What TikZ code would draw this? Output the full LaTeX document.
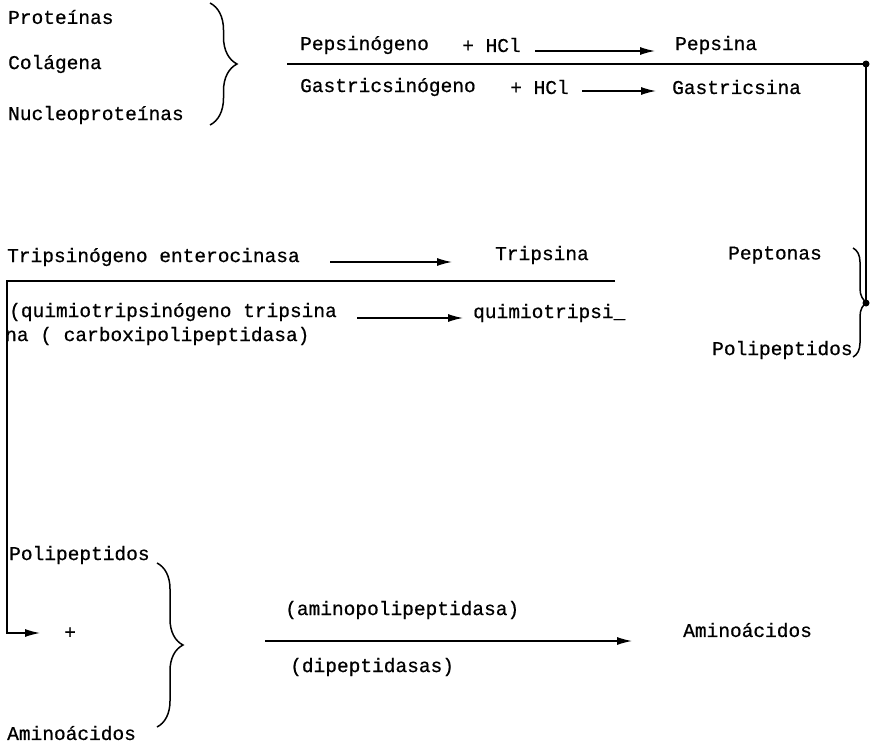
\documentclass[tikz,border=0pt]{standalone}
\usepackage{fontspec}
\newfontfamily\maq[FakeBold=0.6]{Liberation Mono}
\usetikzlibrary{arrows.meta,decorations.pathreplacing}
\tikzset{
  txt/.style={anchor=west,inner sep=0pt,font=\maq\fontsize{19.5}{21}\selectfont},
  ln/.style={line width=1.3pt},
  arr/.style={line width=1.3pt,-{Latex[length=15pt,width=8pt]}},
  llave/.style={line width=1.5pt,decorate,decoration={brace,amplitude=#1}},
  punto/.style={circle,fill,inner sep=0pt,minimum size=7pt},
}
\begin{document}
\begin{tikzpicture}[x=1pt,y=-1pt]
  \useasboundingbox (0,0) rectangle (872,746);
  % estomago
  \node[txt] (prot) at (8,17) {Proteínas};
  \node[txt] (col) at (8,64) {Colágena};
  \node[txt] (nucl) at (8,115) {Nucleoproteínas};
  \draw[llave=27pt] (210,3) -- (210,125);
  \node[txt] (pepg) at (300,45) {Pepsinógeno};
  \node[txt] (hcla) at (462,45) {+ HCl};
  \node[txt] (peps) at (675,45) {Pepsina};
  \node[txt] (gasg) at (300,87) {Gastricsinógeno};
  \node[txt] (hclb) at (510,87) {+ HCl};
  \node[txt] (gast) at (672,87) {Gastricsina};
  \coordinate (a1) at (535,51); \coordinate (b1) at (655,51);
  \coordinate (a2) at (582,91); \coordinate (b2) at (656,91);
  \draw[arr] (a1) -- (b1);
  \draw[arr] (a2) -- (b2);
  \node[punto] (d1) at (866,64) {};
  \node[punto] (d2) at (866,303) {};
  \draw[ln] (287,64) -- (d1.center) -- (d2.center);
  % intestino
  \node[txt] (trg) at (7,257) {Tripsinógeno enterocinasa};
  \node[txt] (trip) at (495,255) {Tripsina};
  \node[txt] (pept) at (728,255) {Peptonas};
  \node[txt] (polr) at (712,350) {Polipeptidos};
  \draw[llave=14pt] (853,248) -- (853,357);
  \node[txt] (qui) at (9,312) {(quimiotripsinógeno tripsina};
  \node[txt] (quim) at (473,313) {quimiotripsi\_};
  \node[txt] (carb) at (5,336) {na ( carboxipolipeptidasa)};
  \coordinate (a3) at (330,262); \coordinate (b3) at (452,262);
  \coordinate (a4) at (357,318); \coordinate (b4) at (463,318);
  \draw[arr] (a3) -- (b3);
  \draw[arr] (a4) -- (b4);
  \coordinate (c1) at (615,281); \coordinate (c2) at (40,633);
  \draw[arr] (c1) -- (7,281) |- (c2);
  % aminoacidos
  \node[txt] (poll) at (9,555) {Polipeptidos};
  \node[txt] (plus) at (64,633) {+};
  \node[txt] (amil) at (7,733) {Aminoácidos};
  \draw[llave=26pt] (157,563) -- (157,727);
  \node[txt] (amp) at (285,610) {(aminopolipeptidasa)};
  \node[txt] (dip) at (290,667) {(dipeptidasas)};
  \node[txt] (amir) at (683,630) {Aminoácidos};
  \coordinate (a5) at (265,641); \coordinate (b5) at (632,641);
  \draw[arr] (a5) -- (b5);
\end{tikzpicture}
\end{document}
